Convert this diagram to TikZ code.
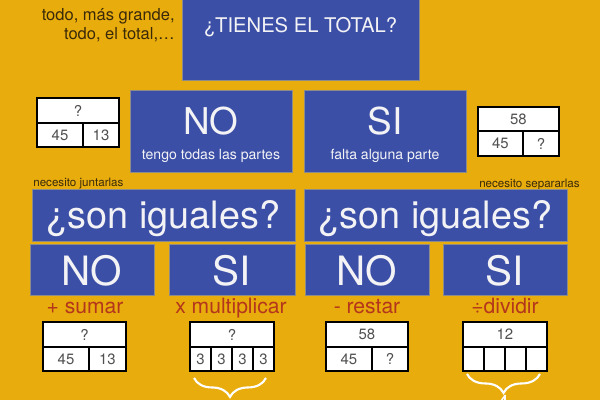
\documentclass[tikz,border=0pt]{standalone}
\usepackage{fontspec}
\setmainfont{TeX Gyre Heros}
\usetikzlibrary{decorations.pathreplacing}
\definecolor{bgorange}{HTML}{E8AC0C}
\definecolor{boxblue}{HTML}{3C4FA6}
\definecolor{boxedge}{HTML}{8E8C88}
\definecolor{boxtext}{HTML}{F3F3F6}
\definecolor{optext}{HTML}{B4361C}
\definecolor{numtext}{HTML}{505050}
\definecolor{hinttext}{HTML}{3B2A0A}

\begin{document}
\begin{tikzpicture}[x=0.02cm,y=-0.02cm,
    blue box/.style={rectangle,fill=boxblue,draw=boxedge,line width=0.5pt,inner sep=0pt},
    big text/.style={text=boxtext,anchor=base,inner sep=0pt,font=\fontsize{21}{21}\selectfont},
    small text/.style={text=boxtext,anchor=base,inner sep=0pt,font=\fontsize{8}{8}\selectfont},
    hint/.style={text=hinttext,inner sep=0pt,font=\fontsize{6.6}{7}\selectfont},
    op/.style={text=optext,anchor=base,inner sep=0pt,font=\fontsize{12}{12}\selectfont},
    cell/.style={rectangle,draw=black,fill=white,line width=1.1pt,inner sep=0pt,
                 text=numtext,font=\fontsize{8.5}{8.5}\selectfont},
    brace/.style={draw=white,line width=1.2pt,decorate,
                  decoration={brace,mirror,amplitude=0.38cm}}]

  \clip (0,0) rectangle (600,400);
  \fill[bgorange] (0,0) rectangle (600,400);

  % question at the top
  \node[blue box,minimum width=4.74cm,minimum height=1.8cm] (total) at (300.5,35) {};
  \node[text=boxtext,anchor=base,inner sep=0pt,font=\fontsize{11.5}{12}\selectfont]
       (totaltxt) at (300.5,32) {¿TIENES EL TOTAL?};
  \node[text=hinttext,anchor=base east,inner sep=0pt,font=\fontsize{9.4}{10}\selectfont]
       (hint1) at (175,20) {todo, más grande,};
  \node[text=hinttext,anchor=base east,inner sep=0pt,font=\fontsize{9.4}{10}\selectfont]
       (hint2) at (175,39) {todo, el total,…};

  % first answer
  \node[blue box,minimum width=3.24cm,minimum height=1.64cm] (no1) at (211,131) {};
  \node[big text] (no1txt) at (211,134) {NO};
  \node[small text] (no1sub) at (211,159) {tengo todas las partes};
  \node[blue box,minimum width=3.24cm,minimum height=1.64cm] (si1) at (385,131) {};
  \node[big text] (si1txt) at (385,134) {SI};
  \node[small text] (si1sub) at (385,159) {falta alguna parte};

  % bar models beside the answers
  \node[cell,minimum width=1.64cm,minimum height=0.5cm] (a1) at (78,110.5) {?};
  \node[cell,minimum width=0.92cm,minimum height=0.48cm] (a2) at (60,135) {45};
  \node[cell,minimum width=0.72cm,minimum height=0.48cm] (a3) at (101,135) {13};
  \node[cell,minimum width=1.62cm,minimum height=0.48cm] (b1) at (518.5,119) {58};
  \node[cell,minimum width=0.9cm,minimum height=0.5cm] (b2) at (500.5,143.5) {45};
  \node[cell,minimum width=0.72cm,minimum height=0.5cm] (b3) at (541,143.5) {?};

  % second question
  \node[hint,anchor=base west] (junt) at (33,186) {necesito juntarlas};
  \node[hint,anchor=base east] (sepa) at (580,187) {necesito separarlas};
  \node[blue box,minimum width=5.26cm,minimum height=1.04cm] (igual1) at (163.5,215) {};
  \node[big text,font=\fontsize{21.5}{22}\selectfont] (igual1txt) at (163.5,228) {¿son iguales?};
  \node[blue box,minimum width=5.26cm,minimum height=1.04cm] (igual2) at (435.5,215) {};
  \node[big text,font=\fontsize{21.5}{22}\selectfont] (igual2txt) at (435.5,228) {¿son iguales?};

  \node[blue box,minimum width=2.48cm,minimum height=1.02cm] (no2) at (92,269.5) {};
  \node[big text,font=\fontsize{23}{23}\selectfont] (no2txt) at (92,285) {NO};
  \node[blue box,minimum width=2.52cm,minimum height=1.02cm] (si2) at (232,269.5) {};
  \node[big text,font=\fontsize{23}{23}\selectfont] (si2txt) at (232,285) {SI};
  \node[blue box,minimum width=2.48cm,minimum height=1.02cm] (no3) at (367,269.5) {};
  \node[big text,font=\fontsize{23}{23}\selectfont] (no3txt) at (367,285) {NO};
  \node[blue box,minimum width=2.48cm,minimum height=1.02cm] (si3) at (505,269.5) {};
  \node[big text,font=\fontsize{23}{23}\selectfont] (si3txt) at (505,285) {SI};

  % operations
  \node[op] (sumar) at (85,313) {+ sumar};
  \node[op] (mult) at (231,313) {x multiplicar};
  \node[op] (restar) at (367,313) {- restar};
  \node[op] (divid) at (505,313) {÷dividir};

  \node[cell,minimum width=1.66cm,minimum height=0.5cm] (s1) at (84.5,334.5) {?};
  \node[cell,minimum width=0.92cm,minimum height=0.48cm] (s2) at (66,359) {45};
  \node[cell,minimum width=0.74cm,minimum height=0.48cm] (s3) at (107.5,359) {13};

  \node[cell,minimum width=1.68cm,minimum height=0.5cm] (m0) at (232,334.5) {?};
  \node[cell,minimum width=0.42cm,minimum height=0.48cm] (m1) at (200.5,359) {3};
  \node[cell,minimum width=0.42cm,minimum height=0.48cm] (m2) at (221.5,359) {3};
  \node[cell,minimum width=0.42cm,minimum height=0.48cm] (m3) at (242.5,359) {3};
  \node[cell,minimum width=0.42cm,minimum height=0.48cm] (m4) at (263.5,359) {3};

  \node[cell,minimum width=1.64cm,minimum height=0.5cm] (r1) at (367,334.5) {58};
  \node[cell,minimum width=0.92cm,minimum height=0.48cm] (r2) at (349,359) {45};
  \node[cell,minimum width=0.72cm,minimum height=0.48cm] (r3) at (390,359) {?};

  \node[cell,minimum width=1.68cm,minimum height=0.5cm] (d0) at (505,334.5) {12};
  \node[cell,minimum width=0.42cm,minimum height=0.48cm] (d1) at (473.5,359) {};
  \node[cell,minimum width=0.42cm,minimum height=0.48cm] (d2) at (494.5,359) {};
  \node[cell,minimum width=0.42cm,minimum height=0.48cm] (d3) at (515.5,359) {};
  \node[cell,minimum width=0.42cm,minimum height=0.48cm] (d4) at (536.5,359) {};

  \draw[brace] ([shift={(5,6)}]m1.south west) -- ([shift={(-9,6)}]m4.south east);
  \draw[brace] ([shift={(5,2)}]d1.south west) -- ([shift={(-8,2)}]d4.south east);
  \node[text=white,anchor=north,inner sep=0pt,font=\fontsize{13}{13}\selectfont]
       (cuatro) at (503,395) {4};
\end{tikzpicture}
\end{document}
